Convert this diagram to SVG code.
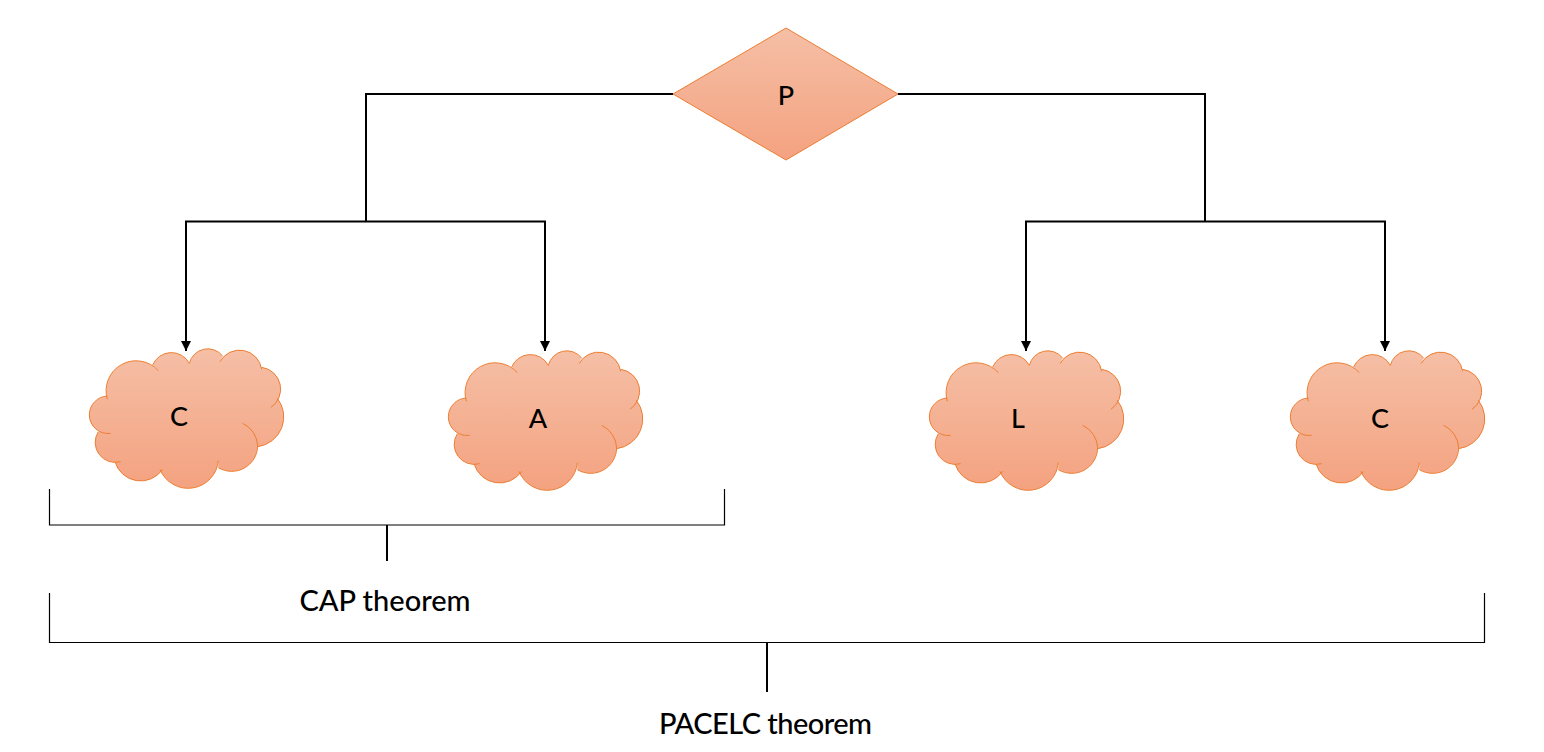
<svg xmlns="http://www.w3.org/2000/svg" xmlns:xlink="http://www.w3.org/1999/xlink" width="1544" height="752" viewBox="0 0 1544 752">
<style>
text{font-family:"Lato","Open Sans","Liberation Sans",sans-serif;fill:#000;text-anchor:middle;font-weight:500}
.n{font-size:27px}
.t{font-size:29px}
.c{fill:none;stroke:#000;stroke-width:2}
.b{fill:none;stroke:#000;stroke-width:1.2}
.f{fill:url(#g)}
.s{fill:none;stroke:#ed7d31;stroke-width:3}
</style>
<defs>
<linearGradient id="g" x1="0" y1="0" x2="0" y2="1"><stop offset="0" stop-color="#f5bfa6"/><stop offset="1" stop-color="#f4a280"/></linearGradient>
<marker id="a" markerUnits="userSpaceOnUse" markerWidth="11" markerHeight="11" refX="10" refY="5" orient="auto"><path d="M0 0L10 5L0 10Z" fill="#000"/></marker>
<g id="cloud" transform="translate(70 330) scale(.33333)">
<path class="f" d="M112 208A90 90 0 0 1 265 122L248 105A61 61 0 0 1 358 100A57 57 0 0 1 458 78L450 95A67 67 0 0 1 575 118L575 112A66 66 0 0 1 603 232L622 205A90 90 0 0 1 563 350L518 280A78 78 0 0 1 563 348A78 78 0 0 1 445 413L445 392A91 91 0 0 1 270 418L278 418A80 80 0 0 1 135 395L152 395A60 60 0 0 1 85 305L122 310A56 56 0 0 1 58 255A57 57 0 0 1 112 198Z"/>
<path class="s" d="M112 208A90 90 0 0 1 265 122M248 105A61 61 0 0 1 358 100M358 100A57 57 0 0 1 458 78M450 95A67 67 0 0 1 575 118M575 112A66 66 0 0 1 603 232M622 205A90 90 0 0 1 563 350M518 280A78 78 0 0 1 563 348A78 78 0 0 1 445 413M445 392A91 91 0 0 1 270 418M278 418A80 80 0 0 1 135 395M152 395A60 60 0 0 1 85 305M122 310A56 56 0 0 1 58 255A57 57 0 0 1 112 198"/>
</g>
</defs>
<g id="connectors">
<path class="c" d="M673 94H366V221.500"/>
<path class="c" d="M366 221.500H186V351" marker-end="url(#a)"/>
<path class="c" d="M366 221.500H545V351" marker-end="url(#a)"/>
<path class="c" d="M898 94H1205V221.500"/>
<path class="c" d="M1205 221.500H1026V351" marker-end="url(#a)"/>
<path class="c" d="M1205 221.500H1385V351" marker-end="url(#a)"/>
<path class="b" d="M49.500 489V525H724.500V489"/>
<path class="c" d="M387 525V561"/>
<path class="b" d="M49.500 593V642.500H1484.500V593"/>
<path class="c" d="M767 642V692"/>
</g>
<g id="node-p">
<path class="f" d="M786 28L898 94L786 160L673 94Z" style="stroke:#ed7d31;stroke-width:1"/>
<text class="n" x="786" y="105">P</text>
</g>
<g id="node-c1"><use xlink:href="#cloud"/><text class="n" x="179" y="426">C</text></g>
<g id="node-a"><use xlink:href="#cloud" x="359" y="2"/><text class="n" x="538" y="428">A</text></g>
<g id="node-l"><use xlink:href="#cloud" x="840" y="2"/><text class="n" x="1018" y="428">L</text></g>
<g id="node-c2"><use xlink:href="#cloud" x="1201" y="2"/><text class="n" x="1380" y="428">C</text></g>
<text id="cap" class="t" x="385" y="611">CAP theorem</text>
<text id="pacelc" class="t" x="765.500" y="734" textLength="213">PACELC theorem</text>
</svg>
